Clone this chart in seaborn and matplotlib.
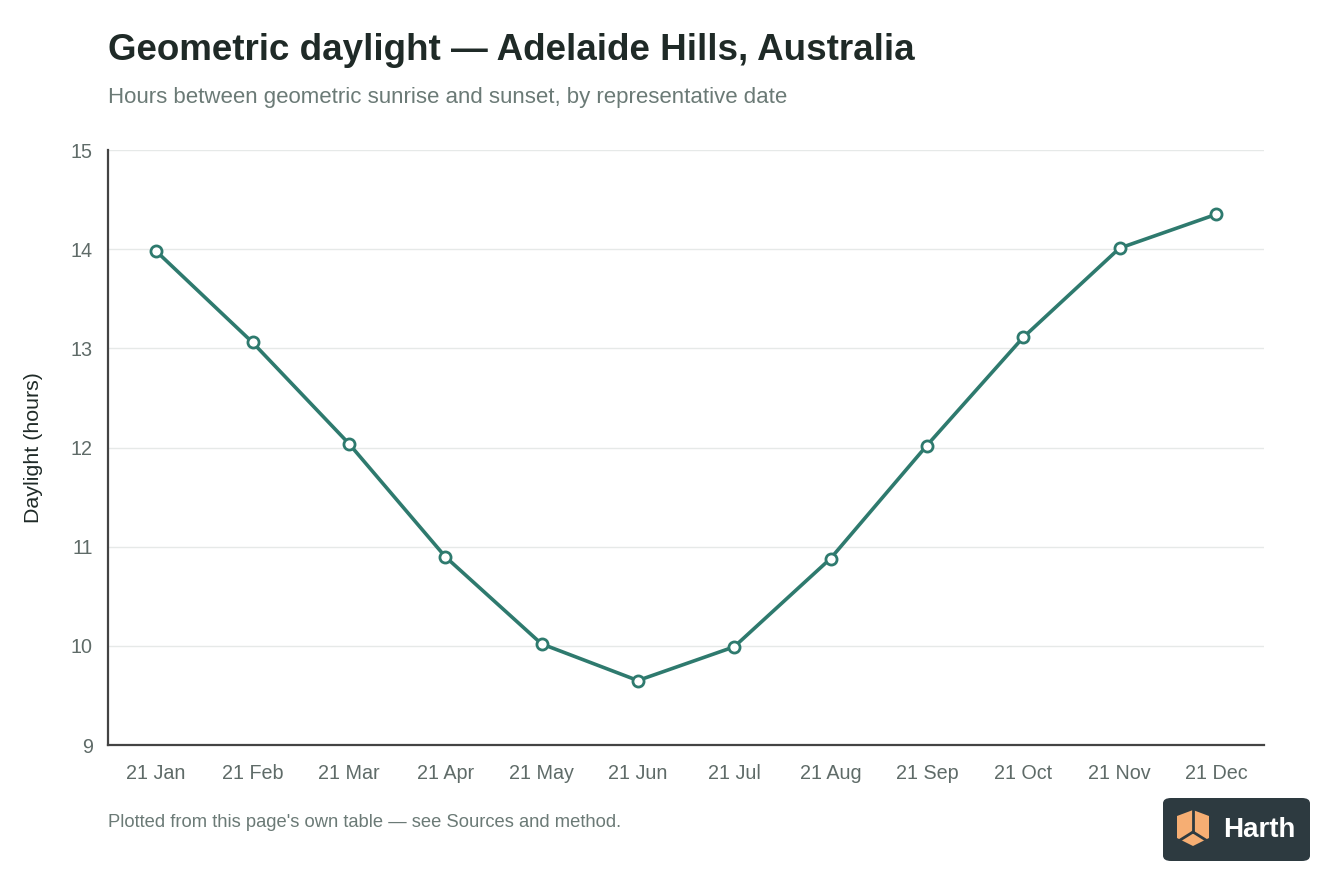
import matplotlib
matplotlib.use("Agg")
import matplotlib.pyplot as plt
import matplotlib.patches as mpatches
import seaborn as sns
import pandas as pd

dates = ["21 Jan", "21 Feb", "21 Mar", "21 Apr", "21 May", "21 Jun",
         "21 Jul", "21 Aug", "21 Sep", "21 Oct", "21 Nov", "21 Dec"]
daylight = [13.98, 13.06, 12.04, 10.90, 10.02, 9.65,
            9.99, 10.88, 12.02, 13.11, 14.01, 14.35]
y_ticks = [9, 10, 11, 12, 13, 14, 15]

sns.set_theme(style="white")
plt.rcParams['font.family'] = ['Liberation Sans', 'DejaVu Sans']

df = pd.DataFrame({"date": dates, "hours": daylight})
df["pos"] = range(len(dates))

fig = plt.figure(figsize=(13.44, 8.96), dpi=100)
ax = fig.add_axes([108/1344, 1-745/896, (1264-108)/1344, (745-150)/896])

line_color = "#2e7a6e"
sns.lineplot(data=df, x="pos", y="hours", ax=ax, color=line_color, linewidth=2.6,
             marker="o", markersize=8, markerfacecolor="white",
             markeredgecolor=line_color, markeredgewidth=2.0, zorder=3)

ax.set_xlim(-0.5, len(dates) - 0.5)
ax.set_ylim(9, 15)
ax.set_xticks(range(len(dates)))
ax.set_xticklabels(dates)
ax.set_yticks(y_ticks)
ax.set_yticklabels([str(t) for t in y_ticks])
ax.tick_params(axis="both", length=0, labelsize=14.2, colors="#5f6b68")
ax.tick_params(axis="y", pad=11)
ax.tick_params(axis="x", pad=14)
ax.grid(axis="y", color="#e6e9e8", linewidth=1.0)
ax.set_axisbelow(True)
for s in ["top", "right"]:
    ax.spines[s].set_visible(False)
for s in ["left", "bottom"]:
    ax.spines[s].set_color("#444444")
    ax.spines[s].set_linewidth(1.6)
ax.set_xlabel("")
ax.set_ylabel("Daylight (hours)", fontsize=15.4, color="#1f2a27", labelpad=20)

fig.text(108/1344, 1-50/896, "Geometric daylight \u2014 Adelaide Hills, Australia",
         fontsize=26.5, fontweight="bold", color="#1f2a27", va="center", ha="left")
fig.text(108/1344, 1-97/896, "Hours between geometric sunrise and sunset, by representative date",
         fontsize=16, color="#6b7a76", va="center", ha="left")
fig.text(108/1344, 1-822/896, "Plotted from this page's own table \u2014 see Sources and method.",
         fontsize=13.2, color="#6b7a76", va="center", ha="left")

# Logo badge
W, H = 1344, 896
def fx(x): return x / W
def fy(y): return 1 - y / H
badge = mpatches.FancyBboxPatch((fx(1163), fy(861)), fx(1310) - fx(1163), fy(798) - fy(861),
                                boxstyle="round,pad=0,rounding_size=0.006",
                                transform=fig.transFigure, facecolor="#2d3a40",
                                edgecolor="none", zorder=10)
fig.patches.append(badge)
orange = "#f6ae73"
dark = "#2d3a40"
hexpts = [(1177, 816), (1193, 810), (1209, 816), (1209, 838), (1193, 846), (1177, 838)]
fig.patches.append(mpatches.Polygon([(fx(x), fy(y)) for x, y in hexpts], closed=True,
                                    transform=fig.transFigure, facecolor=orange,
                                    edgecolor="none", zorder=11))
for (x1, y1), (x2, y2) in [((1193, 810), (1193, 832)), ((1193, 832), (1177, 842)),
                           ((1193, 832), (1209, 842))]:
    fig.lines.append(plt.Line2D([fx(x1), fx(x2)], [fy(y1), fy(y2)], transform=fig.transFigure,
                                color=dark, linewidth=2.0, zorder=12))
fig.text(fx(1259), fy(830), "Harth", fontsize=20, fontweight="bold", color="white",
         ha="center", va="center", zorder=13)

fig.savefig("out.png", dpi=100, facecolor="white")
